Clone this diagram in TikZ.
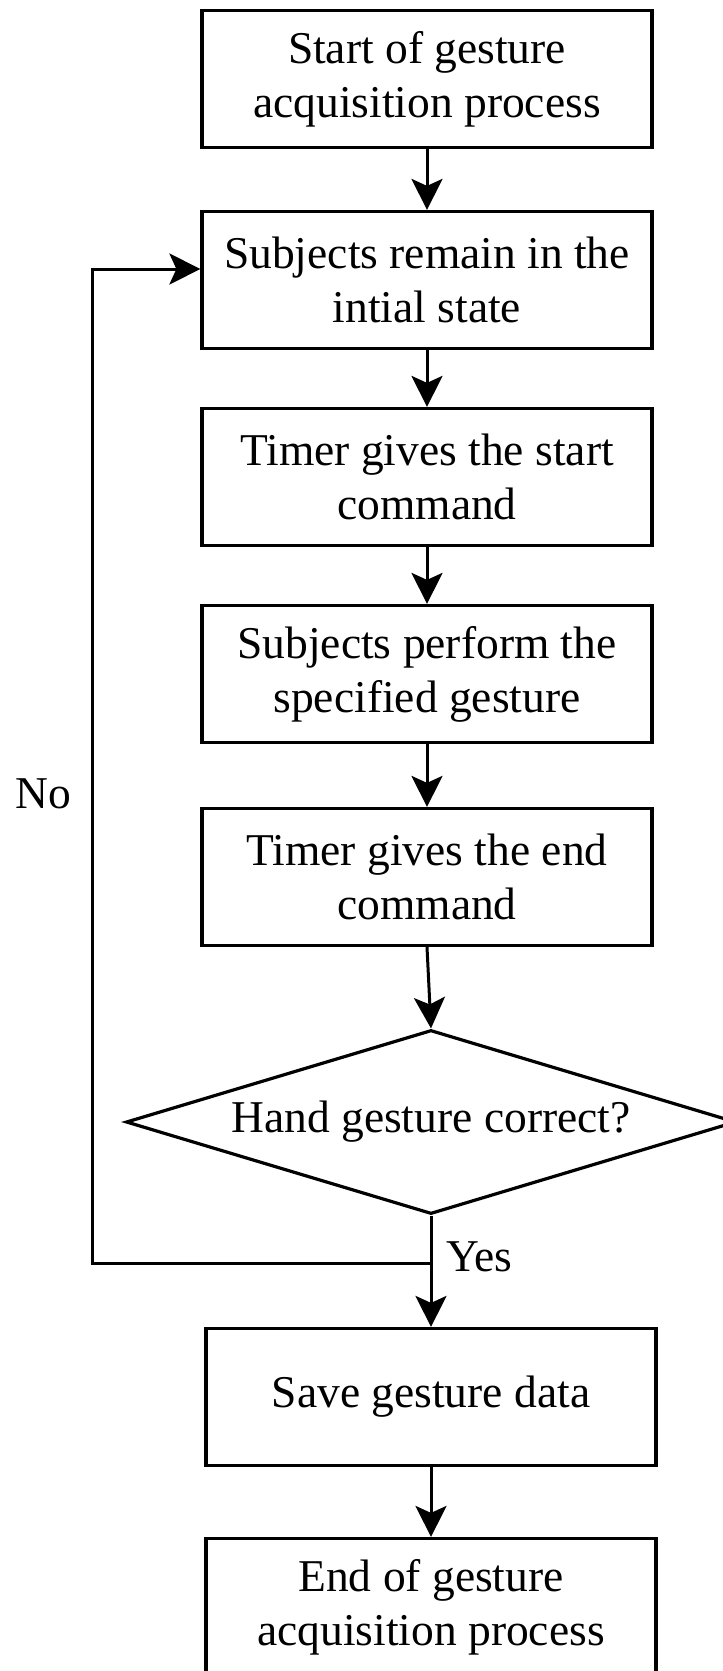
\documentclass[tikz,border=0pt]{standalone}
\usepackage{fontspec}
\setmainfont{Liberation Serif}
\usepackage{tikz}
\usetikzlibrary{calc,positioning,shapes.geometric,arrows.meta}
\tikzset{
x=1pt, y=1pt,
node distance=200pt, % distance between two box centres
process/.style={draw, line width=3.2pt, minimum width=450pt, minimum height=137pt, align=center, inner sep=0pt},
decision/.style={draw, diamond, aspect=3.26, line width=3.2pt, minimum width=610pt, minimum height=184pt, inner sep=0pt},
flow/.style={-{Stealth[length=31pt,width=31pt,inset=7pt]}, line width=3pt},
}

\begin{document}
\begin{tikzpicture}[on grid, font=\fontsize{45.5}{54}\selectfont]
   \useasboundingbox (0,0) rectangle (723,-1671);
   \node[process] (p_0) at (427,-79) {Start of gesture\\acquisition process};
   \node[process] (p_1) [below=201pt of p_0] {Subjects remain in the\\intial state};
   \node[process] (p_2) [below=197pt of p_1] {Timer gives the start\\command};
   \node[process] (p_3) [below=197pt of p_2] {Subjects perform the\\specified gesture};
   \node[process] (p_4) [below=203pt of p_3] {Timer gives the end\\command};
   \node[decision, xshift=4pt] (q) [below=245pt of p_4] {Hand gesture correct?};
   \node[process] (p_5) [below=275pt of q] {Save gesture data};
   \node[process] (p_6) [below=210pt of p_5] {End of gesture\\acquisition process};
   \coordinate (split) at ($(q.south)+(0,-48)$);
    \path[flow]
    (p_0) edge (p_1)
    (p_1) edge (p_2)
    (p_2) edge (p_3)
    (p_3) edge (p_4)
    (p_4.south) edge (q.north)
    (q.south) edge (p_5)
    (p_5) edge (p_6);
   \draw[flow] (split) -- ++(-339,0) |- ([yshift=11pt]p_1.west);
   \node (no) at (43,-794) {No};
   \node[anchor=west, inner sep=0pt] (yes) at (446,-1257) {Yes};
\end{tikzpicture}
\end{document}
